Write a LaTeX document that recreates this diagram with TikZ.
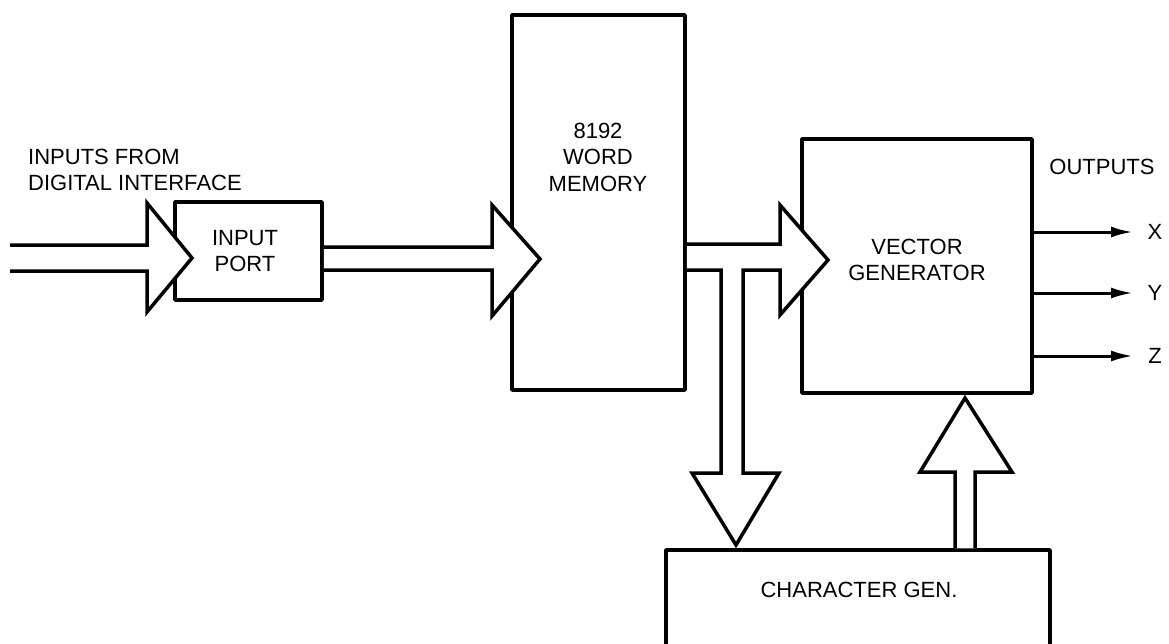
\documentclass[tikz,border=0pt]{standalone}
\usepackage{fontspec}
\setmainfont{Liberation Sans}
\usetikzlibrary{arrows.meta,calc}
\begin{document}
\begin{tikzpicture}[x=1pt,y=-1pt,
 box/.style={draw,line width=3.5pt,line join=round,inner sep=0pt},
 fat/.style={draw,fill=white,line width=3.5pt,line join=miter},
 lbl/.style={font=\fontsize{22}{26.5}\selectfont,align=center,inner sep=0pt},
 outl/.style={line width=3pt,-{Latex[length=22pt,width=11pt]}}]
\useasboundingbox (0,0) rectangle (1169,643);
\clip (0,0) rectangle (1169,643);
% boxes
\node[box,minimum width=147pt,minimum height=98pt] (inport) at (248.5,251) {};
\node[box,minimum width=173pt,minimum height=375pt] (mem) at (598.5,202.5) {};
\node[box,minimum width=230pt,minimum height=254pt] (vg) at (917,266) {};
\node[box,minimum width=384pt,minimum height=102pt] (cg) at (858,601) {};
% labels
\node[lbl,align=left,anchor=west] (intxt) at (28,170) {INPUTS FROM\\DIGITAL INTERFACE};
\node[lbl] (porttxt) at (245,251) {INPUT\\PORT};
\node[lbl] (memtxt) at (598,157) {8192\\WORD\\MEMORY};
\node[lbl] (vgtxt) at (917,260) {VECTOR\\GENERATOR};
\node[lbl] (cgtxt) at (859,590) {CHARACTER GEN.};
\node[lbl] (outtxt) at (1102,167) {OUTPUTS};
\node[lbl] (xl) at (1155,232) {X};
\node[lbl] (yl) at (1155,293) {Y};
\node[lbl] (zl) at (1155,356) {Z};
% fat arrows
\coordinate (src) at (10,258);
\draw[fat] (src |- 0,245) -- (147,245) -- (147,203) -- (192,258) -- (147,312) -- (147,271) -- (src |- 0,271);
\draw[fat] (inport.east |- 0,247) -- (492,247) -- (492,205) -- (540,259) -- (492,316) -- (492,270) -- (inport.east |- 0,270);
\draw[fat] (mem.east |- 0,244) -- (780,244) -- (780,205) -- (828,260) -- (780,315) -- (780,270)
  -- (743,270) -- (743,473) -- (779,473) -- (736,545) -- (692,473) -- (721,473) -- (721,270) -- (mem.east |- 0,270);
\draw[fat] (cg.north -| 955,0) -- (955,472) -- (920,472) -- (965,398) -- (1012,472) -- (975,472) -- (cg.north -| 975,0);
% outputs
\coordinate (ox) at (1133,232);
\coordinate (oy) at (1133,293);
\coordinate (oz) at (1133,356);
\draw[outl] (vg.east |- ox) -- (ox);
\draw[outl] (vg.east |- oy) -- (oy);
\draw[outl] (vg.east |- oz) -- (oz);
\end{tikzpicture}
\end{document}
